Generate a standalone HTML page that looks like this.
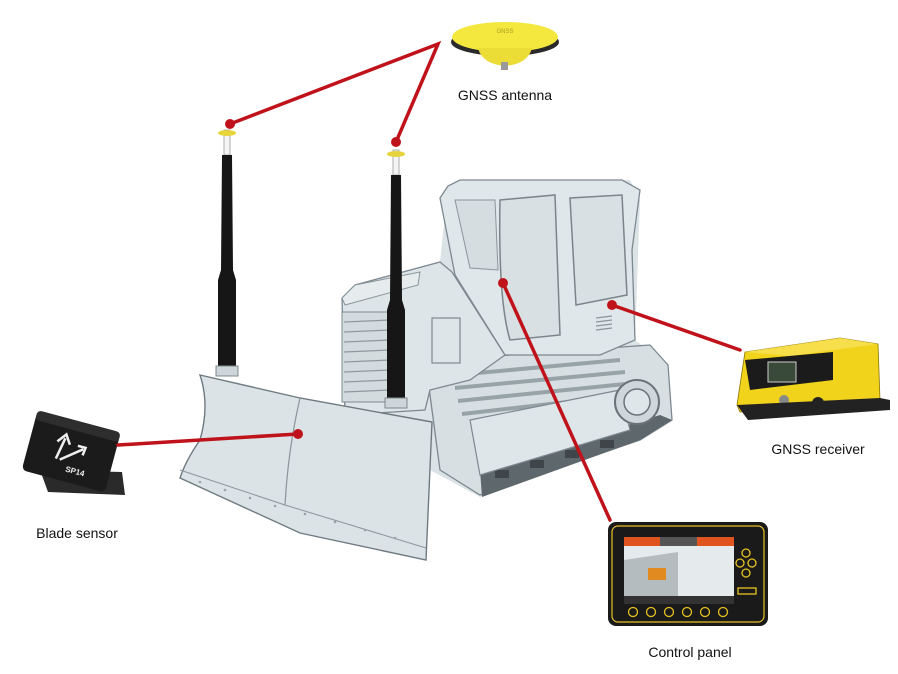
<!DOCTYPE html>
<html><head><meta charset="utf-8"><style>
html,body{margin:0;padding:0;background:#fff;}
svg{display:block}
text{font-family:"Liberation Sans",sans-serif;font-size:14px;fill:#111}
</style></head><body>
<svg width="898" height="674" viewBox="0 0 898 674" xmlns="http://www.w3.org/2000/svg">
<rect width="898" height="674" fill="#fff"/>
<!-- base silhouette filler -->
<polygon points="345,300 440,262 448,186 630,180 640,200 635,340 668,365 672,420 480,497 430,470 425,420 345,415" fill="#dbe3e6"/>
<!-- rear track -->
<polygon points="440,360 650,345 668,365 672,420 640,440 480,495 440,470 428,380" fill="#d7dfe2" stroke="#7d8890" stroke-width="1.3"/>
<g stroke="#98a3a8" stroke-width="4">
<line x1="455" y1="375" x2="620" y2="360"/><line x1="455" y1="388" x2="625" y2="372"/>
<line x1="458" y1="401" x2="625" y2="384"/><line x1="462" y1="414" x2="620" y2="396"/>
</g>
<polygon points="480,470 660,415 672,420 640,440 482,497" fill="#5e676b"/>
<g fill="#3f4548"><rect x="495" y="470" width="14" height="8"/><rect x="530" y="460" width="14" height="8"/><rect x="565" y="450" width="14" height="8"/><rect x="600" y="440" width="14" height="8"/></g>
<polygon points="470,420 620,390 630,430 480,475" fill="#dfe6e9" stroke="#7d8890" stroke-width="1.2"/>
<circle cx="637" cy="402" r="22" fill="#cfd7da" stroke="#6a7378" stroke-width="2"/>
<circle cx="637" cy="402" r="13" fill="#dfe6e9" stroke="#6a7378" stroke-width="1.5"/>
<!-- engine hood -->
<polygon points="342,298 355,285 440,262 452,272 505,355 470,380 430,390 425,410 345,415" fill="#dde5e8" stroke="#7d8890" stroke-width="1.3"/>
<polygon points="342,298 355,285 420,272 418,285 345,305" fill="#e6ecee" stroke="#8a959a" stroke-width="1"/>
<rect x="342" y="312" width="50" height="90" fill="#d3dbde" stroke="#7d8890" stroke-width="1"/>
<g stroke="#8e999e" stroke-width="1.3">
<line x1="344" y1="322" x2="390" y2="320"/><line x1="344" y1="332" x2="390" y2="330"/>
<line x1="344" y1="342" x2="390" y2="340"/><line x1="344" y1="352" x2="390" y2="350"/>
<line x1="344" y1="362" x2="390" y2="360"/><line x1="344" y1="372" x2="390" y2="370"/>
<line x1="344" y1="382" x2="390" y2="380"/><line x1="344" y1="392" x2="390" y2="390"/>
</g>
<rect x="432" y="318" width="28" height="45" fill="none" stroke="#7d8890" stroke-width="1.2"/>
<!-- cab -->
<polygon points="440,198 448,186 460,180 622,180 640,190 638,205 632,250 635,340 600,355 505,355 455,275" fill="#e0e7ea" stroke="#7d8890" stroke-width="1.3"/>
<path d="M500,200 L555,195 L560,335 L510,340 Q498,300 500,200 Z" fill="#d8e0e3" stroke="#7a858a" stroke-width="1.5"/>
<polygon points="570,198 622,195 627,295 576,305" fill="#d8e0e3" stroke="#7a858a" stroke-width="1.5"/>
<polygon points="455,200 495,200 498,270 470,268" fill="#d5dde0" stroke="#8a959a" stroke-width="1"/>
<g stroke="#8a959a" stroke-width="1.3"><line x1="596" y1="318" x2="612" y2="316"/><line x1="596" y1="322" x2="612" y2="320"/><line x1="596" y1="326" x2="612" y2="324"/><line x1="596" y1="330" x2="612" y2="328"/></g>
<!-- blade -->
<path d="M200,375 L300,398 L432,422 L426,560 L300,533 L180,478 Q186,460 200,440 Q210,405 200,375 Z" fill="#dbe3e6" stroke="#6f7a80" stroke-width="1.4"/>
<path d="M300,398 Q288,450 285,505" fill="none" stroke="#8a959a" stroke-width="1.2"/>
<polyline points="180,470 285,505 426,548" fill="none" stroke="#8a959a" stroke-width="1"/>
<g fill="#9aa4a9"><circle cx="200" cy="482" r="1.3"/><circle cx="225" cy="490" r="1.3"/><circle cx="250" cy="498" r="1.3"/><circle cx="275" cy="506" r="1.3"/><circle cx="305" cy="514" r="1.3"/><circle cx="335" cy="522" r="1.3"/><circle cx="365" cy="530" r="1.3"/><circle cx="395" cy="538" r="1.3"/></g>
<!-- poles -->
<rect x="224" y="130" width="6" height="25" fill="#f4f4f4" stroke="#999" stroke-width="0.8"/>
<path d="M222,155 L232,155 L233,270 L236,280 L236,370 L218,370 L218,280 L221,270 Z" fill="#161616"/>
<rect x="216" y="366" width="22" height="10" fill="#cfd6d9" stroke="#7d8890"/>
<ellipse cx="227" cy="133" rx="9" ry="3" fill="#e6d43a"/>
<rect x="393" y="150" width="6" height="25" fill="#f4f4f4" stroke="#999" stroke-width="0.8"/>
<path d="M391,175 L401,175 L402,300 L405,310 L405,400 L387,400 L387,310 L390,300 Z" fill="#161616"/>
<rect x="385" y="398" width="22" height="10" fill="#cfd6d9" stroke="#7d8890"/>
<ellipse cx="396" cy="154" rx="9" ry="3" fill="#e6d43a"/>
<!-- GNSS antenna -->
<ellipse cx="505" cy="42" rx="54" ry="14" fill="#2a2a2a"/>
<ellipse cx="505" cy="37" rx="53" ry="15" fill="#f4e83e"/>
<path d="M478,48 L532,48 Q528,64 505,66 Q482,64 478,48 Z" fill="#ebdd36"/>
<rect x="501" y="62" width="7" height="8" fill="#999"/>
<text x="505" y="33" text-anchor="middle" style="font-size:6px;fill:#a99b20">GNSS</text>
<!-- blade sensor -->
<polygon points="40,470 122,472 125,495 48,492" fill="#2a2a2a"/>
<g transform="rotate(15 70 452)">
<rect x="28" y="420" width="86" height="62" rx="5" fill="#1b1b1b"/>
<rect x="28" y="420" width="86" height="10" rx="4" fill="#2e2e2e"/>
<path d="M58,462 L62,440 M55,445 L62,436 L68,445 M62,462 L82,446 M76,444 L84,444 L83,452" stroke="#eee" stroke-width="2.5" fill="none"/>
<text x="70" y="472" style="font-size:8px;font-weight:bold;fill:#eee">SP14</text>
</g>
<!-- receiver -->
<polygon points="745,352 840,338 878,344 880,400 740,412 737,405" fill="#f1d31b" stroke="#8a7500" stroke-width="0.8"/>
<polygon points="745,352 840,338 878,344 790,356" fill="#f6df4a"/>
<polygon points="745,360 833,352 833,380 750,390" fill="#1b1b1b"/>
<rect x="768" y="362" width="28" height="20" fill="#3a4a3a" stroke="#ccc" stroke-width="1"/>
<circle cx="784" cy="400" r="5" fill="#888"/><circle cx="818" cy="403" r="6" fill="#222"/>
<polygon points="737,405 880,398 890,400 890,410 748,420" fill="#222"/>
<!-- control panel -->
<rect x="608" y="522" width="160" height="104" rx="8" fill="#1a1a1a"/>
<rect x="612" y="526" width="152" height="96" rx="6" fill="none" stroke="#e6c222" stroke-width="1.2"/>
<rect x="624" y="537" width="110" height="67" fill="#e5eaec"/>
<rect x="624" y="537" width="36" height="9" fill="#e05420"/>
<rect x="697" y="537" width="37" height="9" fill="#e05420"/>
<rect x="660" y="537" width="37" height="9" fill="#555"/>
<polygon points="624,560 678,552 678,600 624,600" fill="#b5bcbf"/>
<rect x="648" y="568" width="18" height="12" fill="#e08a20"/>
<rect x="624" y="596" width="110" height="8" fill="#333"/>
<g fill="none" stroke="#e6c222" stroke-width="1.3"><circle cx="633" cy="612" r="4.5"/><circle cx="651" cy="612" r="4.5"/><circle cx="669" cy="612" r="4.5"/><circle cx="687" cy="612" r="4.5"/><circle cx="705" cy="612" r="4.5"/><circle cx="723" cy="612" r="4.5"/>
<circle cx="746" cy="553" r="4"/><circle cx="740" cy="563" r="4"/><circle cx="752" cy="563" r="4"/><circle cx="746" cy="573" r="4"/><rect x="738" y="588" width="18" height="6"/></g>
<!-- red connectors -->
<g stroke="#c0121b" stroke-width="3.5" fill="none" stroke-linecap="round">
<polyline points="230,124 438,44 396,142"/>
<line x1="503" y1="283" x2="610" y2="520"/>
<line x1="612" y1="305" x2="740" y2="350"/>
<line x1="298" y1="434" x2="118" y2="445"/>
</g>
<g fill="#c0121b">
<circle cx="230" cy="124" r="5"/><circle cx="396" cy="142" r="5"/>
<circle cx="503" cy="283" r="5"/><circle cx="612" cy="305" r="5"/>
<circle cx="298" cy="434" r="5"/>
</g>
<text x="505" y="100" text-anchor="middle">GNSS antenna</text>
<text x="818" y="454" text-anchor="middle">GNSS receiver</text>
<text x="77" y="538" text-anchor="middle">Blade sensor</text>
<text x="690" y="657" text-anchor="middle">Control panel</text>
</svg>
</body></html>
